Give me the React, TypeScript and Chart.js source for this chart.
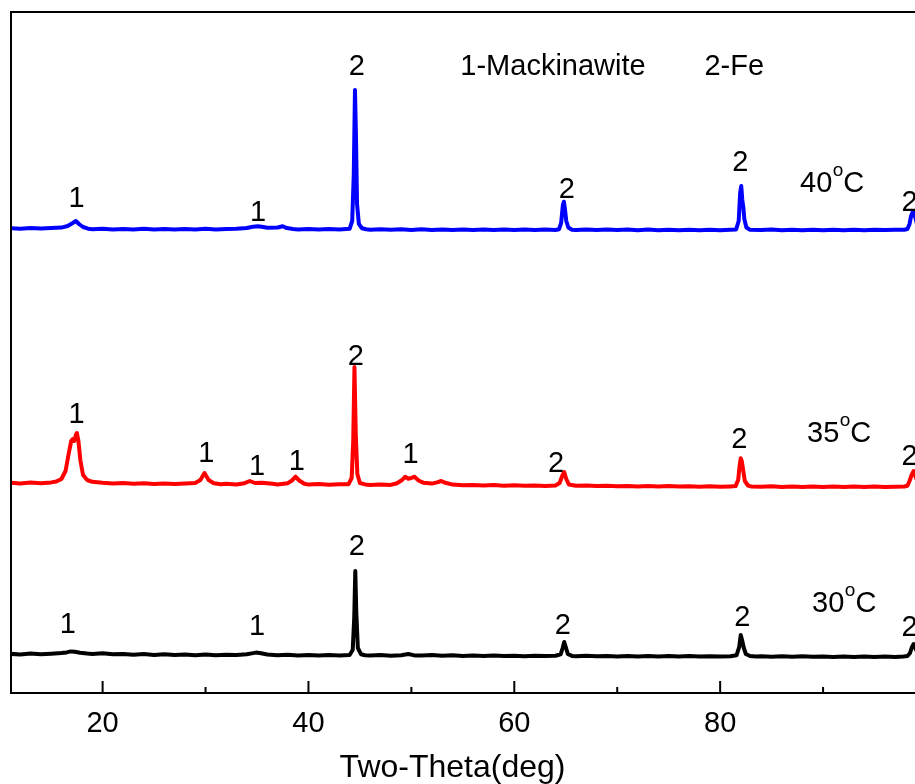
import React, { useEffect, useRef } from "react";
import { Chart, registerables } from "chart.js";

Chart.register(...registerables);

// ---------- axis ----------
const X_MIN = 11.1;
const X_MAX = 100;
const Y_MIN = 0;
const Y_MAX = 681;
const majorTicks = [20, 40, 60, 80, 100];
const minorTicks = [30, 50, 70, 90];
const tickLabels = ["20", "40", "60", "80"];
const xTitle = "Two-Theta(deg)";

// ---------- vertical offsets of the stacked patterns ----------
const offset30 = 36;
const offset35 = 206;
const offset40 = 463;

// ---------- patterns: [2θ, intensity above baseline] ----------
const pattern30: [number, number][] = [
  [11, 3.2], [12, 2.4], [13, 3.4], [14, 2.7], [15, 3.3], [16, 3.9], [16.5, 4.6], [16.9, 5.6], [17.3, 5.2], [17.8, 4.2],
  [18.5, 3.4], [19, 3.0], [20, 3.7], [21, 2.7], [22, 3.1], [23, 2.3], [24, 3.0], [25, 2.1], [26, 2.7], [27, 1.9],
  [28, 2.5], [29, 1.8], [30, 2.4], [31, 1.8], [32, 2.3], [33, 1.9], [34, 2.7], [34.5, 3.6], [34.9, 4.4], [35.4, 3.7],
  [36, 2.5], [37, 1.8], [38, 2.2], [39, 1.6], [40, 2.1], [41, 1.4], [42, 1.9], [43, 1.5], [44, 2.0], [44.3, 7],
  [44.45, 40], [44.55, 86], [44.65, 44], [44.8, 9], [45.1, 2.8], [45.5, 1.8], [46, 1.5], [47, 1.9], [48, 1.3], [49, 1.8],
  [49.7, 3.0], [50.3, 1.6], [51, 1.4], [52, 1.9], [53, 1.2], [54, 1.7], [55, 1.1], [56, 1.5], [57, 1.0], [58, 1.4],
  [59, 0.9], [60, 1.3], [61, 0.8], [62, 1.3], [63, 0.9], [64, 1.2], [64.5, 2.6], [64.7, 9], [64.85, 15], [65.0, 10],
  [65.2, 3], [65.6, 1.1], [66, 0.8], [67, 1.2], [68, 0.7], [69, 1.1], [70, 0.6], [71, 1.0], [72, 0.5], [73, 1.0],
  [74, 0.6], [75, 0.9], [76, 0.4], [77, 0.9], [78, 0.5], [79, 0.8], [80, 0.4], [81, 0.8], [81.6, 1.8], [81.85, 10],
  [82.0, 22], [82.15, 16], [82.3, 9], [82.5, 3], [82.9, 1.0], [83.5, 0.5], [84, 0.8], [85, 0.3], [86, 0.7], [87, 0.2],
  [88, 0.7], [89, 0.2], [90, 0.6], [91, 0.1], [92, 0.6], [93, 0.1], [94, 0.5], [95, 0.0], [96, 0.5], [97, 0.1],
  [97.8, 0.6], [98.2, 1.0], [98.45, 4], [98.6, 9], [98.8, 13], [99.0, 8], [99.3, 2], [99.6, 0.5], [100, 0.3],
];

const pattern35: [number, number][] = [
  [11, 4.2], [12, 3.6], [13, 4.4], [14, 3.8], [15, 4.6], [15.5, 5.5], [16, 8], [16.4, 16], [16.7, 33], [16.95, 46],
  [17.1, 48], [17.25, 46], [17.4, 52], [17.5, 54], [17.65, 46], [17.85, 26], [18.1, 12], [18.5, 7], [19, 5.2], [20, 4.2],
  [21, 3.5], [22, 4.0], [23, 3.2], [24, 3.8], [25, 3.0], [26, 3.6], [27, 2.9], [28, 3.6], [29, 4.0], [29.5, 7],
  [29.9, 14], [30.3, 7], [30.8, 3.8], [31.5, 2.8], [32, 3.3], [33, 2.6], [33.8, 3.8], [34.3, 6], [34.8, 4.0], [35.5, 4.3],
  [36.5, 3.2], [37, 2.6], [38, 3.8], [38.4, 6.5], [38.75, 10.3], [39.1, 6.5], [39.6, 3.2], [40, 2.4], [41, 2.9], [42, 2.2],
  [43, 2.7], [43.9, 2.8], [44.2, 9], [44.35, 46], [44.47, 120], [44.6, 52], [44.75, 13], [45, 4], [45.5, 2.6], [46, 2.0],
  [47, 2.5], [48, 2.1], [48.6, 3.8], [49.1, 7], [49.4, 10.3], [49.7, 8.3], [50.0, 9], [50.3, 10.3], [50.7, 6.5], [51.2, 4.2],
  [52, 3.4], [52.5, 4.6], [52.9, 6], [53.3, 4.2], [54, 2.4], [55, 1.7], [56, 2.1], [57, 1.4], [58, 1.9], [59, 1.3],
  [60, 1.8], [61, 1.2], [62, 1.6], [63, 1.1], [64, 1.5], [64.4, 4], [64.65, 11], [64.85, 15], [65.05, 8], [65.3, 2.5],
  [66, 1.2], [67, 1.5], [68, 0.9], [69, 1.3], [70, 0.7], [71, 1.1], [72, 0.6], [73, 1.0], [74, 0.5], [75, 0.9],
  [76, 0.4], [77, 0.8], [78, 0.3], [79, 0.7], [80, 0.2], [81, 0.6], [81.5, 0.9], [81.75, 7], [81.9, 22], [82.0, 28.7],
  [82.1, 26], [82.25, 16], [82.4, 6], [82.7, 1.5], [83, 0.6], [84, 0.3], [85, 0.7], [86, 0.1], [87, 0.6], [88, 0.0],
  [89, 0.5], [90, 0.0], [91, 0.4], [92, -0.1], [93, 0.4], [94, -0.1], [95, 0.4], [96, 0.0], [97, 0.3], [97.9, 0.5],
  [98.2, 1.2], [98.4, 6], [98.6, 12], [98.8, 16], [99.0, 10], [99.3, 2], [100, 0.2],
];

const pattern40: [number, number][] = [
  [11, 1.8], [12, 1.3], [13, 2.0], [14, 1.4], [15, 1.9], [16, 2.4], [16.6, 4], [17.1, 7], [17.4, 9], [17.7, 6],
  [18.1, 3], [18.6, 1.3], [19, 0.8], [20, 1.3], [21, 0.6], [22, 1.1], [23, 0.5], [24, 1.2], [25, 0.6], [26, 1.1],
  [27, 0.5], [28, 1.0], [29, 0.6], [30, 1.2], [31, 0.6], [32, 1.1], [33, 1.3], [34, 2.0], [34.6, 3.2], [35.1, 3.8],
  [35.6, 3.0], [36, 2.2], [37, 2.5], [37.5, 3.8], [37.9, 1.9], [38.5, 1.0], [39, 0.6], [40, 1.1], [41, 0.5], [42, 1.0],
  [43, 0.5], [44.0, 1.2], [44.25, 9], [44.4, 55], [44.52, 140], [44.62, 92], [44.72, 26], [44.9, 6], [45.2, 1.8], [45.6, 0.8],
  [46, 0.3], [47, 0.8], [48, 0.2], [49, 0.7], [50, 0.1], [51, 0.7], [52, 0.1], [53, 0.6], [54, 0.0], [55, 0.6],
  [56, 0.1], [57, 0.6], [58, 0.0], [59, 0.5], [60, 0.0], [61, 0.5], [62, -0.1], [63, 0.5], [64, 0.0], [64.35, 0.8],
  [64.55, 7], [64.72, 25], [64.82, 28.3], [64.92, 21], [65.05, 9], [65.25, 2.5], [65.6, 0.3], [66, 0.0], [67, 0.5], [68, -0.1],
  [69, 0.4], [70, -0.1], [71, 0.4], [72, -0.2], [73, 0.4], [74, -0.2], [75, 0.3], [76, -0.2], [77, 0.3], [78, -0.2],
  [79, 0.3], [80, -0.2], [81, 0.3], [81.55, 0.5], [81.8, 9], [81.95, 38], [82.05, 44], [82.15, 30], [82.25, 23], [82.35, 11],
  [82.55, 2.5], [82.9, 0.3], [84, 0.0], [85, 0.4], [86, -0.2], [87, 0.3], [88, -0.2], [89, 0.3], [90, -0.2], [91, 0.3],
  [92, -0.2], [93, 0.3], [94, -0.2], [95, 0.3], [96, -0.1], [97, 0.2], [97.9, 0.3], [98.2, 1.0], [98.4, 6], [98.55, 14],
  [98.75, 19], [98.95, 13], [99.2, 3], [99.6, 0.5], [100, 0.2],
];

// ---------- text annotations (x in 2θ, y in the stacked intensity units) ----------
const peakMarks: { x: number; y: number; t: string }[] = [
  // legend
  { x: 63.76, y: 628, t: "1-Mackinawite" },
  { x: 81.37, y: 628, t: "2-Fe" },
  // 40 °C
  { x: 17.48, y: 496, t: "1" },
  { x: 35.1, y: 482, t: "1" },
  { x: 44.69, y: 628, t: "2" },
  { x: 65.11, y: 505, t: "2" },
  { x: 81.96, y: 532, t: "2" },
  { x: 98.41, y: 492, t: "2" },
  // 35 °C
  { x: 17.48, y: 280, t: "1" },
  { x: 30.07, y: 241, t: "1" },
  { x: 35.0, y: 228, t: "1" },
  { x: 38.88, y: 233, t: "1" },
  { x: 49.91, y: 240, t: "1" },
  { x: 44.59, y: 338, t: "2" },
  { x: 64.05, y: 231, t: "2" },
  { x: 81.86, y: 255, t: "2" },
  { x: 98.41, y: 238, t: "2" },
  // 30 °C
  { x: 16.61, y: 70, t: "1" },
  { x: 35.0, y: 68, t: "1" },
  { x: 44.69, y: 148, t: "2" },
  { x: 64.72, y: 69, t: "2" },
  { x: 82.15, y: 77, t: "2" },
  { x: 98.41, y: 67, t: "2" },
];

const tempMarks: { x: number; y: number; value: string }[] = [
  { x: 87.76, y: 511, value: "40" },
  { x: 88.44, y: 261, value: "35" },
  { x: 88.93, y: 91, value: "30" },
];

const FONT = '"Liberation Sans", Arial, Helvetica, sans-serif';

const framePlugin = {
  id: "frameAndText",
  afterDraw(chart: any) {
    const ctx = chart.ctx as CanvasRenderingContext2D;
    const { left, right, top, bottom } = chart.chartArea;
    const xs = chart.scales.x;
    const ys = chart.scales.y;
    ctx.save();
    ctx.strokeStyle = "#000";
    ctx.lineWidth = 2;
    ctx.beginPath();
    ctx.moveTo(right, top);
    ctx.lineTo(left, top);
    ctx.lineTo(left, bottom);
    ctx.lineTo(right, bottom);
    for (const v of majorTicks) {
      const px = xs.getPixelForValue(v);
      ctx.moveTo(px, bottom);
      ctx.lineTo(px, bottom - 12);
    }
    for (const v of minorTicks) {
      const px = xs.getPixelForValue(v);
      ctx.moveTo(px, bottom);
      ctx.lineTo(px, bottom - 6);
    }
    ctx.stroke();

    ctx.fillStyle = "#000";
    const fs = 29;
    ctx.font = `${fs}px ${FONT}`;
    ctx.textAlign = "center";
    ctx.textBaseline = "alphabetic";
    for (const m of peakMarks) {
      ctx.fillText(m.t, xs.getPixelForValue(m.x), ys.getPixelForValue(m.y) + 0.358 * fs);
    }
    ctx.textAlign = "left";
    for (const m of tempMarks) {
      let px = xs.getPixelForValue(m.x);
      const base = ys.getPixelForValue(m.y) + 0.358 * fs;
      ctx.font = `${fs}px ${FONT}`;
      ctx.fillText(m.value, px, base);
      px += ctx.measureText(m.value).width;
      ctx.font = `19px ${FONT}`;
      ctx.fillText("o", px + 0.5, base - 16.5);
      px += ctx.measureText("o").width + 0.5;
      ctx.font = `${fs}px ${FONT}`;
      ctx.fillText("C", px, base);
    }
    ctx.font = `32px ${FONT}`;
    ctx.textAlign = "center";
    ctx.fillText(xTitle, xs.getPixelForValue(54), bottom + 84);
    ctx.restore();
  },
};

export default function App() {
  const ref = useRef<HTMLCanvasElement | null>(null);
  useEffect(() => {
    document.body.style.margin = "0";
    const canvas = ref.current;
    if (!canvas) return;
    const mk = (p: [number, number][], off: number) => p.map(([x, y]) => ({ x, y: y + off }));
    const common = { borderWidth: 4, pointRadius: 0, tension: 0, borderJoinStyle: "round", borderCapStyle: "round" };
    const chart = new Chart(canvas, {
      type: "line",
      data: {
        datasets: [
          { label: "30°C", data: mk(pattern30, offset30), borderColor: "#000000", ...common },
          { label: "35°C", data: mk(pattern35, offset35), borderColor: "#ff0000", ...common },
          { label: "40°C", data: mk(pattern40, offset40), borderColor: "#0000ff", ...common },
        ] as any,
      },
      options: {
        animation: false,
        responsive: false,
        devicePixelRatio: 1,
        layout: { padding: { left: 11, top: 12, right: 10.7, bottom: 0 } },
        plugins: { legend: { display: false }, tooltip: { enabled: false }, title: { display: false } },
        scales: {
          x: {
            type: "linear",
            min: X_MIN,
            max: X_MAX,
            grid: { display: false, drawTicks: false },
            border: { display: false },
            afterFit: (scale: any) => {
              scale.height = 91;
            },
            ticks: {
              stepSize: 10,
              includeBounds: false,
              autoSkip: false,
              maxRotation: 0,
              padding: 14,
              color: "#000",
              font: { size: 29, family: FONT },
              callback: (v: any) => (tickLabels.includes(String(v)) ? String(v) : ""),
            },
          },
          y: { type: "linear", min: Y_MIN, max: Y_MAX, display: false },
        },
      } as any,
      plugins: [framePlugin],
    });
    return () => chart.destroy();
  }, []);
  return (
    <div style={{ position: "absolute", left: 0, top: 0, width: 915, height: 784, overflow: "hidden", background: "#fff" }}>
      <canvas ref={ref} width={940} height={784} style={{ display: "block", width: 940, height: 784 }} />
    </div>
  );
}
